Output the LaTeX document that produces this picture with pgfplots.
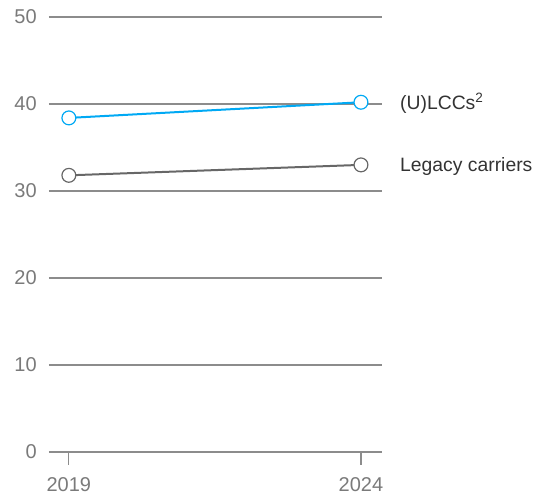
\documentclass[border=0pt]{standalone}
\usepackage{fontspec}
\setmainfont{Liberation Sans}
\usepackage{pgfplots}
\pgfplotsset{compat=1.18}

\definecolor{lccblue}{HTML}{00A9F4}
\definecolor{legacygray}{HTML}{676767}
\definecolor{gridgray}{HTML}{8C8C8C}
\definecolor{labelgray}{HTML}{7A7A7A}

\begin{document}
\begin{tikzpicture}[x=0.75pt,y=0.75pt]
  \begin{axis}[
      scale only axis,
      width=249.75pt, height=326.25pt,
      xmin=2018.66, xmax=2024.36,
      ymin=0, ymax=50,
      xtick={2019,2024},
      ytick={0,10,20,30,40,50},
      xtick pos=lower,
      axis line style={draw=none},
      ymajorgrids,
      grid style={gridgray, line width=0.8pt},
      tick align=outside,
      major tick length=9.75pt,
      xtick style={gridgray, line width=0.8pt},
      ytick style={draw=none},
      xticklabel style={yshift=-6pt},
      yticklabel style={xshift=4pt},
      tick label style={font=\fontsize{15}{17}\selectfont, text=labelgray},
      /pgf/number format/assume math mode=true,
      /pgf/number format/1000 sep={},
      clip=false,
    ]
    \addplot[lccblue, line width=1.5pt, mark=*, mark size=5.2pt,
      mark options={fill=white, draw=lccblue, line width=0.9pt}]
      coordinates {(2019,38.4) (2024,40.2)};
    \addplot[legacygray, line width=1.5pt, mark=*, mark size=5.2pt,
      mark options={fill=white, draw=legacygray, line width=0.9pt}]
      coordinates {(2019,31.8) (2024,33.0)};
    \node[anchor=west, font=\fontsize{14.5}{16}\selectfont, text=black!80, inner sep=0pt]
      at (axis cs:2024,40.2) [xshift=29.25pt, yshift=-0.8pt] {(U)LCCs\textsuperscript{2}};
    \node[anchor=west, font=\fontsize{14.5}{16}\selectfont, text=black!80, inner sep=0pt]
      at (axis cs:2024,33.0) [xshift=29.25pt, yshift=-1.5pt] {Legacy carriers};
  \end{axis}
  \path (current axis.south west) ++(-36.75pt,-32.25pt) coordinate (bbsw);
  \path (current axis.north east) ++(113.25pt,12.75pt) coordinate (bbne);
  \useasboundingbox (bbsw) rectangle (bbne);
\end{tikzpicture}
\end{document}
